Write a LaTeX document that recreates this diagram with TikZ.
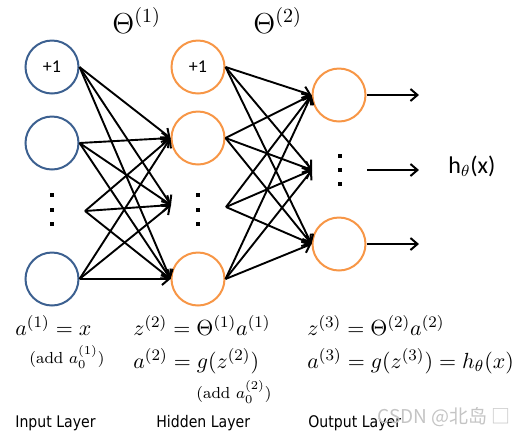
\documentclass[tikz,border=0pt]{standalone}
\usepackage{fontspec}
\newfontfamily\calfont{Carlito}
\newfontfamily\layerfont[FakeStretch=0.88]{DejaVu Sans}
\newfontfamily\cjkfont{Noto Sans CJK SC}
\usetikzlibrary{arrows.meta}
\definecolor{inblue}{HTML}{3C6090}
\definecolor{hidorange}{HTML}{F79646}
\definecolor{wmgray}{HTML}{C4C4C4}
\begin{document}
\begin{tikzpicture}[x=0.5pt,y=-0.5pt,
  neuron/.style={circle,line width=1pt,minimum size=26.5pt,inner sep=0pt,font=\calfont\fontsize{9}{10}\selectfont},
  inneuron/.style={neuron,draw=inblue},
  hidneuron/.style={neuron,draw=hidorange},
  conn/.style={line width=0.95pt,-{Straight Barb[length=3.5pt,width=6pt,line width=1pt]}},
  eqtext/.style={anchor=base west,inner sep=0pt,font=\fontsize{11}{13}\selectfont},
  addnote/.style={anchor=base west,inner sep=0pt,font=\fontsize{8}{10}\selectfont},
  thetalabel/.style={anchor=base west,inner sep=0pt,font=\fontsize{14}{17}\selectfont},
  layerlabel/.style={anchor=base west,inner sep=0pt,font=\layerfont\fontsize{8}{10}\selectfont},
  vdot/.style={rectangle,fill=black,minimum size=1.6pt,inner sep=0pt}
]
\useasboundingbox (0,0) rectangle (519,435);

% input layer
\node[inneuron] (i1) at (52,67) {+1};
\node[inneuron] (i2) at (52,143) {};
\node[inneuron] (i4) at (52,279) {};
\node[vdot] (id1) at (52,195) {};
\node[vdot] (id2) at (52,210) {};
\node[vdot] (id3) at (52,224) {};
\coordinate (im) at (85,211);

% hidden layer
\node[hidneuron] (h1) at (198,67) {+1};
\node[hidneuron] (h2) at (198,138) {};
\node[hidneuron] (h4) at (198,279) {};
\node[vdot] (hd1) at (198,195) {};
\node[vdot] (hd2) at (198,210) {};
\node[vdot] (hd3) at (198,224) {};
\coordinate (hmt) at (171,205);
\coordinate (hms) at (226,207);

% output layer
\node[hidneuron] (o1) at (339,95) {};
\node[hidneuron] (o3) at (339,244) {};
\node[vdot] (od1) at (340,156) {};
\node[vdot] (od2) at (340,170) {};
\node[vdot] (od3) at (340,184) {};
\coordinate (omt) at (312,170);
\coordinate (oms) at (367,170);
\coordinate (oa1) at (419,95);
\coordinate (oa2) at (419,170);
\coordinate (oa3) at (419,244);

% input -> hidden
\foreach \s in {i1.east,i2.east,im,i4.east}{
  \draw[conn] (\s) -- (h2.west);
  \draw[conn] (\s) -- (hmt);
  \draw[conn] (\s) -- (h4.west);
}
% hidden -> output
\foreach \s in {h1.east,h2.east,hms,h4.east}{
  \draw[conn] (\s) -- (o1.west);
  \draw[conn] (\s) -- (omt);
  \draw[conn] (\s) -- (o3.west);
}
% outputs
\draw[conn] (o1.east) -- (oa1);
\draw[conn] (oms) -- (oa2);
\draw[conn] (o3.east) -- (oa3);

\node[anchor=base west,inner sep=0pt,font=\calfont\fontsize{12}{14}\selectfont] (hx) at (448,173) {h$_\theta$(x)};

% theta labels
\node[thetalabel] (t1) at (112,33) {$\Theta^{(1)}$};
\node[thetalabel] (t2) at (253,33) {$\Theta^{(2)}$};

% equations
\node[eqtext] (e1) at (15,335) {$a^{(1)} = x$};
\node[addnote] (n1) at (29,363) {(add $a_0^{(1)}$)};
\node[eqtext] (e2) at (133,335) {$z^{(2)} = \Theta^{(1)}a^{(1)}$};
\node[eqtext] (e3) at (133,368) {$a^{(2)} = g(z^{(2)})$};
\node[addnote] (n2) at (196,398) {(add $a_0^{(2)}$)};
\node[eqtext] (e4) at (307,335) {$z^{(3)} = \Theta^{(2)}a^{(2)}$};
\node[eqtext] (e5) at (307,368) {$a^{(3)} = g(z^{(3)}) = h_\theta(x)$};

% layer labels
\node[layerlabel] (l1) at (15,427) {Input Layer};
\node[layerlabel] (l2) at (156,427) {Hidden Layer};
\node[layerlabel] (l3) at (308,427) {Output Layer};

% watermark
\node[anchor=base west,inner sep=0pt,text=wmgray,font=\cjkfont\fontsize{9.5}{11}\selectfont] (wm) at (377,423) {CSDN @北岛 □};
\end{tikzpicture}
\end{document}
